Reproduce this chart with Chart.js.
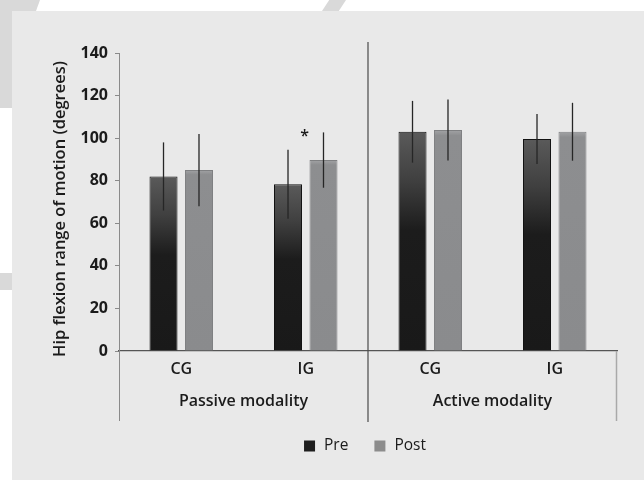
<!DOCTYPE html>
<html>
<head>
<meta charset="utf-8">
<script src="https://cdn.jsdelivr.net/npm/chart.js@4.4.0/dist/chart.umd.min.js"></script>
<style>
  html, body { margin: 0; padding: 0; background: #fff; }
  body { width: 644px; height: 480px; position: relative; overflow: hidden; }
  .mark { position: absolute; background: #d9d9d9; }
  #panel { position: absolute; left: 12px; top: 11px; right: 0; bottom: 0; background: #e9e9e9; }
  #chart { position: absolute; left: 0; top: 0; }
</style>
</head>
<body>
<div class="mark" style="left:0;top:0;width:40px;height:11px;clip-path:polygon(0 0,100% 0,90% 100%,0 100%)"></div>
<div class="mark" style="left:0;top:0;width:12px;height:108px"></div>
<div class="mark" style="left:0;top:273px;width:12px;height:17px"></div>
<div class="mark" style="left:322px;top:0;width:24px;height:11px;clip-path:polygon(30% 0,100% 0,70% 100%,0 100%)"></div>
<div id="panel"></div>
<canvas id="chart" width="644" height="480"></canvas>

<script>
/* ---- data ---- */
const GROUPS  = ['Passive modality', 'Active modality'];
const LABELS  = ['CG', 'IG', 'CG', 'IG'];
const PRE     = [82, 78.3, 103, 99.6];
const POST    = [85, 89.7, 103.8, 103];
const PRE_SD  = [16, 16.2, 14.5, 11.7];
const POST_SD = [17, 13, 14.3, 13.6];
const STARS   = ['', '*', '', ''];
const Y_TITLE = 'Hip flexion range of motion (degrees)';
const Y_MIN = 0, Y_MAX = 140, Y_STEP = 20;

const FONT = '"Open Sans", "Noto Sans", sans-serif';
const INK  = '#1b1b1b';

/* gradient for each bar, from its own top down to the axis */
function barFill(stops) {
  return (c) => {
    const chart = c.chart;
    const y = chart.scales.y;
    if (!chart.chartArea || !y || c.raw == null) return stops[stops.length - 1][1];
    const top = y.getPixelForValue(c.raw);
    const bottom = y.getPixelForValue(0);
    const g = chart.ctx.createLinearGradient(0, top, 0, bottom);
    stops.forEach(([p, col]) => g.addColorStop(p, col));
    return g;
  };
}

/* thin error lines, no caps */
const errorBars = {
  id: 'errorBars',
  afterDatasetsDraw(chart) {
    const { ctx } = chart;
    const y = chart.scales.y;
    ctx.save();
    ctx.strokeStyle = '#262626';
    ctx.lineWidth = 1.3;
    chart.data.datasets.forEach((ds, i) => {
      chart.getDatasetMeta(i).data.forEach((bar, j) => {
        const v = ds.data[j], sd = ds.sd[j];
        ctx.beginPath();
        ctx.moveTo(bar.x, y.getPixelForValue(v + sd));
        ctx.lineTo(bar.x, y.getPixelForValue(v - sd));
        ctx.stroke();
      });
    });
    ctx.restore();
  }
};

/* significance mark above a group */
const stars = {
  id: 'stars',
  afterDatasetsDraw(chart) {
    const { ctx } = chart;
    const x = chart.scales.x, y = chart.scales.y;
    ctx.save();
    ctx.font = '600 16px ' + FONT;
    ctx.fillStyle = INK;
    ctx.textAlign = 'center';
    ctx.textBaseline = 'middle';
    STARS.forEach((s, j) => {
      if (!s) return;
      const top = Math.max(PRE[j] + PRE_SD[j], POST[j] + POST_SD[j]);
      ctx.fillText(s, x.getPixelForValue(j) - 1, y.getPixelForValue(top) + 4);
    });
    ctx.restore();
  }
};

/* rotated axis title, sitting a little below the axis middle like the original */
const yTitle = {
  id: 'yTitle',
  afterDraw(chart) {
    const { ctx, chartArea: a } = chart;
    ctx.save();
    ctx.translate(60, (a.top + a.bottom) / 2 + 7);
    ctx.rotate(-Math.PI / 2);
    ctx.font = '600 16.5px ' + FONT;
    ctx.fillStyle = INK;
    ctx.textAlign = 'center';
    ctx.textBaseline = 'middle';
    ctx.fillText(Y_TITLE, 0, 0);
    ctx.restore();
  }
};

/* group boxes under the axis and the group names */
const groupFrame = {
  id: 'groupFrame',
  afterDraw(chart) {
    const { ctx, chartArea: a } = chart;
    const x = chart.scales.x;
    const bottom = a.bottom + 70;
    const mid = (x.getPixelForValue(1) + x.getPixelForValue(2)) / 2;
    ctx.save();
    ctx.lineWidth = 1;
    ctx.strokeStyle = '#8a8a8a';
    ctx.beginPath(); ctx.moveTo(a.left + 0.5, a.bottom); ctx.lineTo(a.left + 0.5, bottom); ctx.stroke();
    ctx.strokeStyle = '#a9a9a9';
    ctx.lineWidth = 1.5;
    ctx.beginPath(); ctx.moveTo(a.right - 0.5, a.bottom); ctx.lineTo(a.right - 0.5, bottom); ctx.stroke();
    ctx.strokeStyle = '#4a4a4a';
    ctx.lineWidth = 1.2;
    ctx.beginPath(); ctx.moveTo(mid, a.top - 11); ctx.lineTo(mid, bottom + 1); ctx.stroke();

    ctx.font = '600 16px ' + FONT;
    ctx.fillStyle = INK;
    ctx.textAlign = 'center';
    ctx.textBaseline = 'middle';
    ctx.fillText(GROUPS[0], (a.left + mid) / 2, a.bottom + 50);
    ctx.fillText(GROUPS[1], (mid + a.right) / 2, a.bottom + 50);
    ctx.restore();
  }
};

/* small legend under the frame */
const keyLegend = {
  id: 'keyLegend',
  afterDraw(chart) {
    const { ctx, chartArea: a } = chart;
    const cy = a.bottom + 95;
    const box = 11, gap = 9, spread = 26;
    ctx.save();
    ctx.font = '15.5px ' + FONT;
    const items = chart.data.datasets.map(ds => ({ label: ds.label, color: ds.keyColor, w: ctx.measureText(ds.label).width }));
    const total = items.reduce((s, it) => s + box + gap + it.w, 0) + spread * (items.length - 1);
    let x = (a.left + a.right) / 2 - 3 - total / 2;
    ctx.textBaseline = 'middle';
    items.forEach(it => {
      ctx.fillStyle = it.color;
      ctx.fillRect(x, cy - box / 2, box, box);
      ctx.fillStyle = INK;
      ctx.fillText(it.label, x + box + gap, cy);
      x += box + gap + it.w + spread;
    });
    ctx.restore();
  }
};

new Chart(document.getElementById('chart'), {
  type: 'bar',
  data: {
    labels: LABELS,
    datasets: [
      {
        label: 'Pre',
        data: PRE,
        sd: PRE_SD,
        keyColor: '#1e1e1e',
        backgroundColor: barFill([[0, '#5a5a5a'], [0.22, '#404040'], [0.45, '#1c1c1c'], [1, '#191919']]),
        borderColor: '#121212',
        borderWidth: 1,
        categoryPercentage: 0.57,
        barPercentage: 0.79,
      },
      {
        label: 'Post',
        data: POST,
        sd: POST_SD,
        keyColor: '#8c8c8c',
        backgroundColor: barFill([[0, '#a2a3a5'], [0.025, '#8d8e90'], [1, '#8a8b8d']]),
        borderColor: '#7f8082',
        borderWidth: 1,
        categoryPercentage: 0.57,
        barPercentage: 0.79,
      },
    ],
  },
  options: {
    responsive: false,
    animation: false,
    layout: { padding: { left: 0, right: 27, top: 53, bottom: 59 } },
    plugins: {
      legend: { display: false },
      tooltip: { enabled: false },
    },
    scales: {
      x: {
        afterFit: (s) => { s.height = 70; },
        grid: { display: false, drawTicks: false },
        border: { display: true, color: '#555', width: 1.2 },
        ticks: { color: INK, font: { family: FONT, size: 16, weight: '600' }, padding: 9 },
      },
      y: {
        min: Y_MIN,
        max: Y_MAX,
        afterFit: (s) => { s.width = 119; },
        grid: { drawOnChartArea: false, drawTicks: true, tickLength: 4, color: '#8a8a8a' },
        border: { display: true, color: '#8a8a8a', width: 1 },
        ticks: { stepSize: Y_STEP, color: INK, padding: 7, font: { family: FONT, size: 16, weight: '700' } },
      },
    },
  },
  plugins: [errorBars, stars, yTitle, groupFrame, keyLegend],
});
</script>
</body>
</html>
